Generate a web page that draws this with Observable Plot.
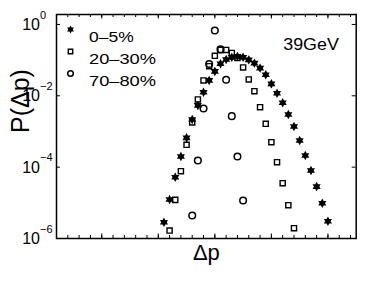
<!DOCTYPE html>
<html><head><meta charset="utf-8">
<script src="https://cdn.jsdelivr.net/npm/d3@7"></script>
<script src="https://cdn.jsdelivr.net/npm/@observablehq/plot@0.6"></script>
<style>
body{margin:0;background:#fff;}
svg{font-family:"Liberation Sans",Arial,Helvetica,sans-serif;}
</style>
</head><body><div id="chart"></div>
<script>
// ---- data ----
const seriesNames = ["0–5%", "20–30%", "70–80%"];
const energyLabel = "39GeV";
const xLabel = "Δp";
const yLabel = "P(Δp)";

// 0-5% (stars)
const dpCentral = [-9,-8,-7,-6,-5,-4,-3,-2,-1,0,1,2,3,4,5,6,7,8,9,10,11,12,13,14,15,16,17,18,19,20];
const pCentral  = [2.86e-6,1.24e-5,5.22e-5,1.99e-4,6.65e-4,2.17e-3,5.36e-3,0.0126,0.0269,0.0481,0.0791,0.104,0.119,0.127,0.119,0.102,0.0822,0.0595,0.0389,0.0217,0.0118,6.37e-3,2.99e-3,1.38e-3,5.58e-4,2.12e-4,8.05e-5,2.86e-5,9.75e-6,3.05e-6];

// 20-30% (open squares)
const dpMid = [-8,-7,-6,-5,-4,-3,-2,-1,0,1,2,3,4,5,6,7,8,9,10,11,12,13,14];
const pMid  = [1.67e-6,1.21e-5,7.69e-5,4.23e-4,1.8e-3,7.88e-3,0.0269,0.0677,0.132,0.193,0.193,0.159,0.115,0.0622,0.0287,0.0135,4.80e-3,1.64e-3,5.00e-4,1.38e-4,3.55e-5,8.57e-6,1.94e-6];

// 70-80% (open circles)
const dpPeri = [-4,-3,-2,-1,0,1,2,3,4,5];
const pPeri  = [4.40e-6,1.53e-4,4.41e-3,0.078,0.679,0.2,0.0281,2.69e-3,1.99e-4,1.16e-5];

// axis ticks
const yTickValues = [1, 1e-2, 1e-4, 1e-6];
const yTickExponents = ["0", "−2", "−4", "−6"];
const xMinorTicks = d3.range(-26, 25, 2);
const xMajorTicks = [-20, -10, 0, 10, 20];

// ---- build ----
const rows = (dps, ps) => dps.map((d, i) => ({dp: d, p: ps[i]}));
const central = rows(dpCentral, pCentral);
const mid = rows(dpMid, pMid);
const peri = rows(dpPeri, pPeri);
const yTicks = yTickValues.map((v, i) => ({v, e: yTickExponents[i]}));

const hexagram = {
  draw(ctx, size) {
    const R = Math.sqrt(size / Math.PI) * 1.3, r = R / Math.sqrt(3);
    for (let i = 0; i < 12; i++) {
      const a = i * Math.PI / 6 - Math.PI / 2, rr = i % 2 ? r : R;
      const x = rr * Math.cos(a), y = rr * Math.sin(a);
      i ? ctx.lineTo(x, y) : ctx.moveTo(x, y);
    }
    ctx.closePath();
  }
};

const W = 374, H = 281, mL = 56, mR = 18.3, mT = 14, mB = 43;
const fw = W - mL - mR, fh = H - mT - mB;

const starStyle = {symbol: hexagram, r: 3.6, fill: "black", stroke: "none"};
const sqStyle = {symbol: "square", r: 2.9, fill: "none", stroke: "black", strokeWidth: 1.4};
const ciStyle = {symbol: "circle", r: 3.3, fill: "none", stroke: "black", strokeWidth: 1.5};

const chart = Plot.plot({
  width: W, height: H,
  marginLeft: mL, marginRight: mR, marginTop: mT, marginBottom: mB,
  x: {domain: [-28, 25], axis: null},
  y: {type: "log", domain: [1e-6, 1.9], axis: null},
  style: {background: "white", color: "black"},
  marks: [
    // inward ticks
    Plot.tickX(xMinorTicks, {x: d => d, insetTop: fh - 3, stroke: "black", strokeWidth: 1}),
    Plot.tickX(xMinorTicks, {x: d => d, insetBottom: fh - 3, stroke: "black", strokeWidth: 1}),
    Plot.tickX(xMajorTicks, {x: d => d, insetTop: fh - 4.5, stroke: "black", strokeWidth: 1}),
    Plot.tickX(xMajorTicks, {x: d => d, insetBottom: fh - 4.5, stroke: "black", strokeWidth: 1}),
    Plot.tickY(yTickValues, {y: d => d, insetRight: fw - 4, stroke: "black", strokeWidth: 1}),
    Plot.tickY(yTickValues, {y: d => d, insetLeft: fw - 4, stroke: "black", strokeWidth: 1}),
    Plot.frame({stroke: "black", strokeWidth: 1.5}),
    // y tick labels
    Plot.text(yTicks, {y: "v", text: d => "10^" + d.e, frameAnchor: "left", dx: -34.3, dy: 0.5,
      textAnchor: "start", fontSize: 16, fill: "black"}),
    // data
    Plot.dot(peri, {x: "dp", y: "p", ...ciStyle}),
    Plot.dot(mid, {x: "dp", y: "p", ...sqStyle}),
    Plot.dot(central, {x: "dp", y: "p", ...starStyle}),
    // legend
    Plot.dot([seriesNames[0]], {frameAnchor: "top-left", dx: 14, dy: 15, ...starStyle, r: 3}),
    Plot.dot([seriesNames[1]], {frameAnchor: "top-left", dx: 14, dy: 37, ...sqStyle, r: 2.5}),
    Plot.dot([seriesNames[2]], {frameAnchor: "top-left", dx: 14, dy: 59, ...ciStyle, r: 2.8}),
    Plot.text([seriesNames[0]], {frameAnchor: "top-left", dx: 32.5, dy: 16.3, textAnchor: "start", fontSize: 15.5, fill: "black"}),
    Plot.text([seriesNames[1]], {frameAnchor: "top-left", dx: 32.5, dy: 38.4, textAnchor: "start", fontSize: 15.5, fill: "black"}),
    Plot.text([seriesNames[2]], {frameAnchor: "top-left", dx: 32.5, dy: 60.5, textAnchor: "start", fontSize: 15.5, fill: "black"}),
    // energy label
    Plot.text([energyLabel], {frameAnchor: "top-left", dx: 226.7, dy: 24, textAnchor: "start", fontSize: 16.5, fill: "black"}),
    // axis titles
    Plot.text([xLabel], {frameAnchor: "bottom", dy: 21, fontSize: 22, fill: "black"}),
    Plot.text([yLabel], {frameAnchor: "left", dx: -35.5, dy: 6.5, rotate: -90, fontSize: 25, fill: "black"})
  ]
});
document.getElementById("chart").append(chart);

// post-process text: superscript exponents, width stretch like the reference
const stretch = {[seriesNames[0]]: 44.7, [seriesNames[1]]: 67, [seriesNames[2]]: 67, [energyLabel]: 55.7};
d3.select(chart).selectAll("text").each(function() {
  const t = this.textContent;
  if (t.includes("^")) {
    const [base, sup] = t.split("^");
    this.textContent = base;
    d3.select(this).append("tspan").attr("dy", -11.5).attr("font-size", 11).text(sup);
  } else if (t in stretch) {
    d3.select(this).attr("textLength", stretch[t]).attr("lengthAdjust", "spacingAndGlyphs");
  }
});
</script>
</body></html>
